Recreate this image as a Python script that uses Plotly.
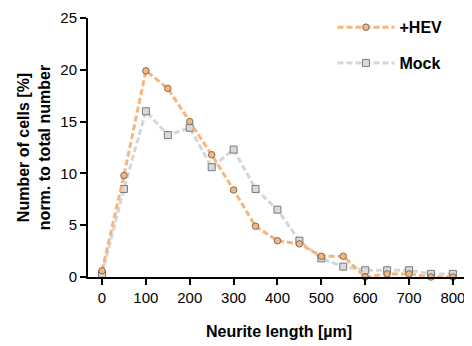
import plotly.graph_objects as go

lengths = [0, 50, 100, 150, 200, 250, 300, 350, 400, 450, 500, 550, 600, 650, 700, 750, 800]
hev = [0.6, 9.8, 19.9, 18.2, 15.0, 11.8, 8.4, 4.9, 3.5, 3.2, 2.0, 2.0, 0.0, 0.3, 0.3, 0.0, 0.0]
mock = [0.3, 8.5, 16.0, 13.7, 14.4, 10.6, 12.3, 8.5, 6.5, 3.5, 1.8, 1.0, 0.65, 0.65, 0.65, 0.3, 0.3]
x_ticks = [0, 100, 200, 300, 400, 500, 600, 700, 800]
y_ticks = [0, 5, 10, 15, 20, 25]

fig = go.Figure()
fig.add_trace(go.Scatter(
    x=lengths, y=mock, name="<b>Mock</b>", mode="lines+markers", legendgroup="b", legendrank=2,
    line=dict(color="#D6D6D6", width=3, dash="6px,3px"),
    marker=dict(symbol="square", size=7, color="#D9D9D9", line=dict(color="#7A7A7A", width=1)),
))
fig.add_trace(go.Scatter(
    x=lengths, y=hev, name="<b>+HEV</b>", mode="lines+markers", legendgroup="a", legendrank=1,
    line=dict(color="#F5B57C", width=3, dash="6px,3px"),
    marker=dict(symbol="circle", size=6.5, color="#F5B57C", line=dict(color="#7A6A5A", width=1)),
))

fig.update_layout(
    width=464, height=338,
    margin=dict(l=80, r=2, t=8, b=69),
    paper_bgcolor="white", plot_bgcolor="white",
    font=dict(family="Arial, Liberation Sans, sans-serif", color="black", size=15),
    showlegend=True,
    legend=dict(x=0.64, y=1.03, xanchor="left", yanchor="top", traceorder="grouped",
                tracegroupgap=12, font=dict(size=16, color="black"),
                bgcolor="rgba(0,0,0,0)", itemwidth=57),
    xaxis=dict(range=[-32, 839], tickvals=x_ticks, showgrid=False, zeroline=False,
               showline=True, linecolor="black", linewidth=2, ticks="outside",
               ticklen=6, tickwidth=2, tickcolor="black", automargin=False,
               tickfont=dict(size=15),
               title=dict(text="<b>Neurite length [µm]</b>", font=dict(size=16), standoff=21)),
    yaxis=dict(range=[0, 25], tickvals=y_ticks, showgrid=False, zeroline=False,
               showline=True, linecolor="black", linewidth=2, ticks="outside",
               ticklen=6, tickwidth=2, tickcolor="black", automargin=False,
               tickfont=dict(size=15),
               title=dict(text="<b>Number of cells [%]<br>norm. to total number</b>", font=dict(size=16), standoff=6)),
)
fig.update_traces(cliponaxis=False)
fig.write_html("out.html")
